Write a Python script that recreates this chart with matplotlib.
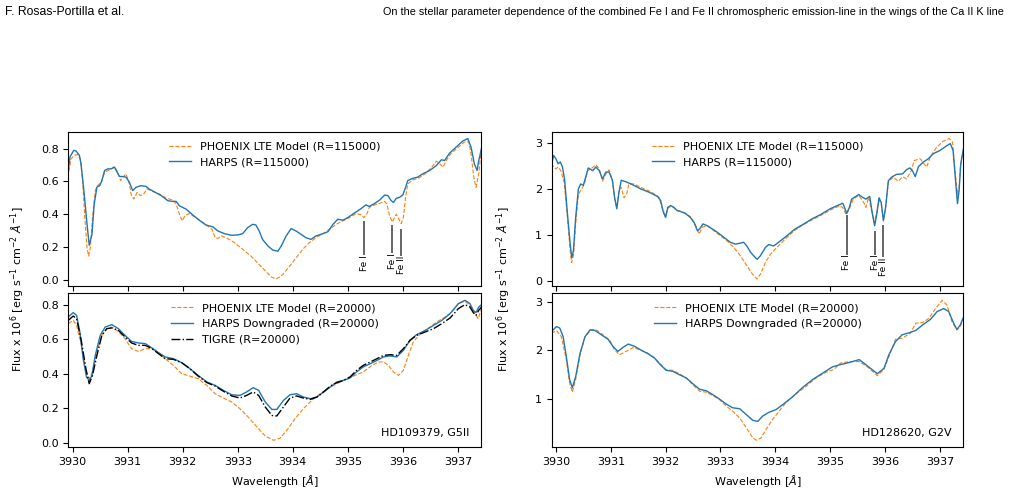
import matplotlib
matplotlib.use("Agg")
import matplotlib.pyplot as plt

# ---- top left: HD109379, R=115000 ----
tl_harps_wl = [3929.91, 3929.95, 3930.02, 3930.06, 3930.12, 3930.15, 3930.21, 3930.26, 3930.30, 3930.35,
               3930.39, 3930.44, 3930.49, 3930.53, 3930.58, 3930.64, 3930.70, 3930.76, 3930.79, 3930.85,
               3930.91, 3930.97, 3931.03, 3931.09, 3931.15, 3931.24, 3931.33, 3931.39, 3931.48, 3931.61,
               3931.73, 3931.82, 3931.88, 3931.94, 3932.06, 3932.18, 3932.30, 3932.42, 3932.55, 3932.64,
               3932.76, 3932.88, 3933.00, 3933.09, 3933.18, 3933.27, 3933.33, 3933.39, 3933.45, 3933.55,
               3933.64, 3933.73, 3933.79, 3933.88, 3933.97, 3934.06, 3934.15, 3934.24, 3934.33, 3934.42,
               3934.55, 3934.64, 3934.73, 3934.82, 3934.91, 3935.00, 3935.09, 3935.18, 3935.27, 3935.33,
               3935.39, 3935.49, 3935.58, 3935.67, 3935.73, 3935.79, 3935.83, 3935.88, 3935.94, 3936.00,
               3936.05, 3936.09, 3936.18, 3936.27, 3936.36, 3936.49, 3936.61, 3936.70, 3936.76, 3936.85,
               3936.97, 3937.09, 3937.18, 3937.24, 3937.30, 3937.35, 3937.38, 3937.43]
tl_harps_fl = [0.646, 0.75, 0.79, 0.786, 0.76, 0.71, 0.52, 0.34, 0.21, 0.277,
               0.46, 0.565, 0.574, 0.605, 0.667, 0.677, 0.677, 0.687, 0.667, 0.63,
               0.63, 0.626, 0.595, 0.544, 0.564, 0.574, 0.57, 0.554, 0.537, 0.513,
               0.482, 0.478, 0.478, 0.451, 0.431, 0.396, 0.363, 0.334, 0.322, 0.297,
               0.281, 0.271, 0.273, 0.281, 0.318, 0.338, 0.334, 0.297, 0.246, 0.205,
               0.18, 0.174, 0.205, 0.267, 0.312, 0.297, 0.277, 0.256, 0.246, 0.267,
               0.281, 0.293, 0.338, 0.369, 0.363, 0.379, 0.40, 0.42, 0.441, 0.457,
               0.447, 0.466, 0.486, 0.517, 0.513, 0.482, 0.472, 0.496, 0.503, 0.517,
               0.564, 0.605, 0.619, 0.626, 0.646, 0.667, 0.697, 0.732, 0.728, 0.773,
               0.81, 0.847, 0.862, 0.81, 0.708, 0.667, 0.728, 0.80]
tl_model_wl = [3929.91, 3929.97, 3930.03, 3930.09, 3930.14, 3930.18, 3930.22, 3930.26, 3930.29, 3930.32,
               3930.36, 3930.41, 3930.45, 3930.52, 3930.58, 3930.67, 3930.76, 3930.82, 3930.87, 3930.91,
               3930.97, 3931.03, 3931.06, 3931.11, 3931.17, 3931.23, 3931.29, 3931.35, 3931.45, 3931.58,
               3931.70, 3931.82, 3931.88, 3931.94, 3931.99, 3932.04, 3932.12, 3932.21, 3932.33, 3932.45,
               3932.53, 3932.59, 3932.64, 3932.70, 3932.79, 3932.94, 3933.09, 3933.24, 3933.39, 3933.52,
               3933.61, 3933.70, 3933.82, 3933.94, 3934.06, 3934.18, 3934.30, 3934.42, 3934.55, 3934.67,
               3934.79, 3934.91, 3935.03, 3935.15, 3935.24, 3935.29, 3935.35, 3935.39, 3935.49, 3935.58,
               3935.67, 3935.71, 3935.76, 3935.81, 3935.85, 3935.88, 3935.92, 3935.97, 3936.01, 3936.05,
               3936.09, 3936.18, 3936.30, 3936.42, 3936.55, 3936.61, 3936.67, 3936.73, 3936.79, 3936.88,
               3937.00, 3937.12, 3937.20, 3937.24, 3937.29, 3937.33, 3937.38, 3937.43]
tl_model_fl = [0.626, 0.738, 0.759, 0.765, 0.738, 0.605, 0.379, 0.195, 0.144, 0.195,
               0.379, 0.544, 0.574, 0.595, 0.656, 0.671, 0.691, 0.656, 0.605, 0.626,
               0.646, 0.585, 0.523, 0.492, 0.533, 0.513, 0.523, 0.554, 0.539, 0.523,
               0.498, 0.486, 0.462, 0.40, 0.359, 0.39, 0.404, 0.384, 0.359, 0.328,
               0.308, 0.256, 0.252, 0.267, 0.256, 0.226, 0.185, 0.144, 0.092, 0.047,
               0.016, 0.004, 0.031, 0.082, 0.133, 0.185, 0.226, 0.256, 0.281, 0.308,
               0.338, 0.359, 0.379, 0.404, 0.396, 0.379, 0.404, 0.441, 0.457, 0.466,
               0.478, 0.462, 0.39, 0.353, 0.379, 0.40, 0.375, 0.343, 0.379, 0.503,
               0.585, 0.609, 0.622, 0.65, 0.697, 0.724, 0.708, 0.687, 0.728, 0.773,
               0.806, 0.841, 0.841, 0.769, 0.626, 0.564, 0.646, 0.81]

# ---- bottom left: HD109379, R=20000 ----
bl_harps_wl = [3929.92, 3930.01, 3930.07, 3930.13, 3930.19, 3930.25, 3930.30, 3930.35, 3930.41, 3930.50,
               3930.59, 3930.71, 3930.83, 3930.95, 3931.07, 3931.19, 3931.32, 3931.44, 3931.56, 3931.68,
               3931.83, 3931.98, 3932.13, 3932.28, 3932.44, 3932.59, 3932.74, 3932.89, 3933.04, 3933.16,
               3933.28, 3933.38, 3933.50, 3933.62, 3933.71, 3933.83, 3933.95, 3934.07, 3934.19, 3934.32,
               3934.44, 3934.56, 3934.68, 3934.80, 3934.92, 3935.04, 3935.16, 3935.28, 3935.41, 3935.53,
               3935.65, 3935.77, 3935.89, 3936.01, 3936.13, 3936.25, 3936.41, 3936.56, 3936.71, 3936.86,
               3937.01, 3937.13, 3937.22, 3937.28, 3937.33, 3937.38, 3937.43]
bl_harps_fl = [0.729, 0.754, 0.738, 0.642, 0.487, 0.381, 0.361, 0.39, 0.506, 0.622,
               0.67, 0.684, 0.661, 0.622, 0.587, 0.578, 0.574, 0.549, 0.522, 0.497,
               0.487, 0.464, 0.429, 0.39, 0.352, 0.332, 0.303, 0.278, 0.274, 0.294,
               0.319, 0.303, 0.236, 0.193, 0.193, 0.245, 0.278, 0.284, 0.265, 0.255,
               0.265, 0.294, 0.323, 0.352, 0.361, 0.375, 0.41, 0.439, 0.458, 0.477,
               0.497, 0.503, 0.497, 0.535, 0.593, 0.626, 0.651, 0.68, 0.709, 0.748,
               0.806, 0.825, 0.806, 0.767, 0.754, 0.786, 0.80]
bl_model_wl = [3929.92, 3930.01, 3930.07, 3930.16, 3930.24, 3930.30, 3930.36, 3930.44, 3930.53, 3930.62,
               3930.71, 3930.83, 3930.95, 3931.07, 3931.19, 3931.32, 3931.44, 3931.56, 3931.68, 3931.83,
               3931.98, 3932.13, 3932.28, 3932.44, 3932.59, 3932.74, 3932.89, 3933.04, 3933.19, 3933.35,
               3933.50, 3933.65, 3933.77, 3933.89, 3934.04, 3934.19, 3934.38, 3934.56, 3934.74, 3934.92,
               3935.10, 3935.28, 3935.44, 3935.56, 3935.65, 3935.74, 3935.83, 3935.92, 3936.01, 3936.10,
               3936.19, 3936.32, 3936.47, 3936.62, 3936.77, 3936.89, 3937.01, 3937.13, 3937.22, 3937.31,
               3937.37, 3937.43]
bl_model_fl = [0.69, 0.709, 0.68, 0.564, 0.41, 0.371, 0.41, 0.526, 0.622, 0.661,
               0.67, 0.645, 0.603, 0.545, 0.529, 0.545, 0.545, 0.516, 0.487, 0.448,
               0.40, 0.386, 0.371, 0.332, 0.284, 0.259, 0.236, 0.197, 0.149, 0.091,
               0.039, 0.014, 0.027, 0.071, 0.139, 0.197, 0.255, 0.298, 0.332, 0.361,
               0.386, 0.41, 0.448, 0.468, 0.468, 0.448, 0.41, 0.39, 0.419, 0.506,
               0.584, 0.632, 0.665, 0.70, 0.729, 0.757, 0.806, 0.819, 0.796, 0.748,
               0.719, 0.777]
bl_tigre_wl = [3929.92, 3930.01, 3930.07, 3930.16, 3930.24, 3930.30, 3930.36, 3930.44, 3930.53, 3930.62,
               3930.71, 3930.83, 3930.95, 3931.07, 3931.19, 3931.32, 3931.44, 3931.56, 3931.68, 3931.83,
               3931.98, 3932.13, 3932.28, 3932.44, 3932.59, 3932.74, 3932.89, 3933.04, 3933.16, 3933.28,
               3933.38, 3933.50, 3933.62, 3933.71, 3933.83, 3933.95, 3934.07, 3934.19, 3934.32, 3934.44,
               3934.56, 3934.68, 3934.80, 3934.92, 3935.04, 3935.16, 3935.28, 3935.41, 3935.53, 3935.65,
               3935.77, 3935.89, 3936.01, 3936.13, 3936.25, 3936.41, 3936.56, 3936.71, 3936.86, 3937.01,
               3937.13, 3937.22, 3937.28, 3937.33, 3937.38, 3937.43]
bl_tigre_fl = [0.709, 0.734, 0.719, 0.584, 0.429, 0.342, 0.39, 0.506, 0.622, 0.661,
               0.665, 0.651, 0.613, 0.578, 0.564, 0.564, 0.545, 0.516, 0.487, 0.483,
               0.464, 0.429, 0.386, 0.348, 0.328, 0.298, 0.271, 0.259, 0.274, 0.294,
               0.274, 0.207, 0.158, 0.155, 0.207, 0.259, 0.271, 0.259, 0.251, 0.265,
               0.294, 0.328, 0.348, 0.361, 0.381, 0.419, 0.448, 0.468, 0.487, 0.506,
               0.51, 0.506, 0.545, 0.593, 0.622, 0.642, 0.661, 0.69, 0.723, 0.777,
               0.80, 0.786, 0.754, 0.738, 0.767, 0.786]

# ---- top right: HD128620, R=115000 ----
tr_harps_wl = [3929.90, 3929.92, 3929.96, 3930.00, 3930.04, 3930.08, 3930.12, 3930.16, 3930.21, 3930.26,
               3930.29, 3930.32, 3930.36, 3930.41, 3930.45, 3930.50, 3930.55, 3930.59, 3930.67, 3930.73,
               3930.79, 3930.85, 3930.91, 3930.97, 3931.03, 3931.07, 3931.11, 3931.15, 3931.19, 3931.27,
               3931.39, 3931.55, 3931.70, 3931.85, 3931.91, 3931.96, 3932.00, 3932.04, 3932.09, 3932.15,
               3932.21, 3932.27, 3932.36, 3932.45, 3932.52, 3932.58, 3932.62, 3932.68, 3932.76, 3932.85,
               3932.94, 3933.06, 3933.18, 3933.27, 3933.36, 3933.42, 3933.48, 3933.55, 3933.64, 3933.67,
               3933.73, 3933.82, 3933.88, 3933.97, 3934.06, 3934.21, 3934.36, 3934.52, 3934.67, 3934.82,
               3935.00, 3935.15, 3935.23, 3935.26, 3935.30, 3935.35, 3935.39, 3935.52, 3935.59, 3935.65,
               3935.72, 3935.76, 3935.81, 3935.85, 3935.89, 3935.93, 3935.97, 3936.01, 3936.06, 3936.12,
               3936.21, 3936.32, 3936.39, 3936.45, 3936.50, 3936.55, 3936.61, 3936.70, 3936.79, 3936.88,
               3937.00, 3937.12, 3937.19, 3937.24, 3937.28, 3937.32, 3937.35, 3937.38, 3937.43]
tr_harps_fl = [2.22, 2.55, 2.73, 2.66, 2.55, 2.59, 2.48, 2.19, 1.46, 0.80,
               0.50, 0.66, 1.38, 2.00, 2.11, 2.08, 2.29, 2.46, 2.40, 2.48,
               2.40, 2.22, 2.37, 2.37, 2.19, 1.82, 1.57, 1.93, 2.19, 2.16,
               2.10, 2.00, 1.93, 1.84, 1.75, 1.49, 1.38, 1.60, 1.64, 1.60,
               1.53, 1.51, 1.47, 1.38, 1.27, 1.09, 1.13, 1.24, 1.20, 1.13,
               1.06, 0.95, 0.84, 0.80, 0.82, 0.84, 0.76, 0.62, 0.50, 0.47,
               0.55, 0.73, 0.79, 0.76, 0.84, 0.98, 1.13, 1.24, 1.35, 1.44,
               1.57, 1.65, 1.69, 1.60, 1.47, 1.60, 1.78, 1.88, 1.82, 1.78,
               1.84, 1.53, 1.20, 1.46, 1.81, 1.71, 1.31, 1.60, 2.18, 2.26,
               2.32, 2.33, 2.42, 2.46, 2.40, 2.27, 2.49, 2.59, 2.66, 2.77,
               2.84, 2.94, 2.99, 2.84, 2.26, 1.68, 1.97, 2.55, 2.88]
tr_model_wl = [3929.90, 3929.94, 3930.00, 3930.04, 3930.09, 3930.15, 3930.21, 3930.26, 3930.285, 3930.32,
               3930.36, 3930.41, 3930.47, 3930.52, 3930.58, 3930.64, 3930.73, 3930.79, 3930.85, 3930.91,
               3930.97, 3931.03, 3931.07, 3931.11, 3931.15, 3931.19, 3931.24, 3931.29, 3931.33, 3931.42,
               3931.58, 3931.73, 3931.88, 3931.95, 3932.00, 3932.05, 3932.12, 3932.21, 3932.33, 3932.45,
               3932.55, 3932.61, 3932.67, 3932.76, 3932.88, 3933.00, 3933.12, 3933.24, 3933.36, 3933.48,
               3933.58, 3933.67, 3933.73, 3933.82, 3933.91, 3934.03, 3934.18, 3934.33, 3934.48, 3934.64,
               3934.82, 3935.00, 3935.18, 3935.24, 3935.29, 3935.35, 3935.42, 3935.52, 3935.61, 3935.65,
               3935.70, 3935.74, 3935.80, 3935.85, 3935.89, 3935.93, 3935.97, 3936.01, 3936.06, 3936.15,
               3936.24, 3936.32, 3936.39, 3936.48, 3936.53, 3936.64, 3936.71, 3936.76, 3936.82, 3936.94,
               3937.06, 3937.17, 3937.23, 3937.27, 3937.32, 3937.35, 3937.38, 3937.43]
tr_model_fl = [2.48, 2.51, 2.44, 2.48, 2.40, 2.15, 1.38, 0.66, 0.40, 0.55,
               1.24, 1.89, 2.00, 2.11, 2.40, 2.44, 2.53, 2.44, 2.17, 2.33,
               2.42, 2.19, 1.78, 1.60, 1.97, 2.04, 1.81, 1.89, 2.11, 2.11,
               2.02, 1.94, 1.82, 1.53, 1.42, 1.60, 1.62, 1.54, 1.49, 1.40,
               1.20, 1.02, 1.17, 1.20, 1.09, 0.98, 0.87, 0.73, 0.55, 0.33,
               0.15, 0.04, 0.15, 0.40, 0.58, 0.73, 0.91, 1.08, 1.20, 1.31,
               1.42, 1.54, 1.64, 1.58, 1.44, 1.57, 1.78, 1.86, 1.71, 1.60,
               1.82, 1.60, 1.27, 1.49, 1.76, 1.68, 1.31, 1.60, 2.15, 2.26,
               2.17, 2.27, 2.22, 2.40, 2.62, 2.66, 2.55, 2.48, 2.69, 2.91,
               3.04, 3.10, 3.02, 2.48, 1.89, 2.04, 2.55, 2.88]

# ---- bottom right: HD128620, R=20000 ----
br_harps_wl = [3929.92, 3930.01, 3930.07, 3930.13, 3930.19, 3930.25, 3930.30, 3930.36, 3930.44, 3930.53,
               3930.62, 3930.71, 3930.83, 3930.95, 3931.04, 3931.13, 3931.22, 3931.32, 3931.44, 3931.56,
               3931.68, 3931.80, 3931.89, 3932.01, 3932.13, 3932.25, 3932.38, 3932.50, 3932.62, 3932.74,
               3932.86, 3932.98, 3933.10, 3933.22, 3933.35, 3933.47, 3933.59, 3933.68, 3933.77, 3933.89,
               3934.01, 3934.13, 3934.32, 3934.50, 3934.68, 3934.86, 3935.04, 3935.16, 3935.31, 3935.53,
               3935.68, 3935.86, 3935.98, 3936.07, 3936.19, 3936.31, 3936.46, 3936.56, 3936.68, 3936.83,
               3936.95, 3937.07, 3937.16, 3937.25, 3937.31, 3937.37, 3937.42]
br_harps_fl = [2.39, 2.49, 2.46, 2.29, 1.87, 1.40, 1.23, 1.46, 1.94, 2.28,
               2.42, 2.41, 2.32, 2.23, 2.08, 1.98, 2.06, 2.13, 2.08, 2.00,
               1.93, 1.84, 1.72, 1.59, 1.57, 1.50, 1.43, 1.31, 1.20, 1.17,
               1.09, 1.00, 0.90, 0.82, 0.80, 0.68, 0.56, 0.54, 0.65, 0.73,
               0.78, 0.88, 1.05, 1.24, 1.40, 1.53, 1.66, 1.70, 1.74, 1.81,
               1.68, 1.52, 1.63, 1.91, 2.18, 2.32, 2.37, 2.41, 2.52, 2.64,
               2.80, 2.86, 2.80, 2.56, 2.43, 2.52, 2.66]
br_model_wl = [3929.92, 3930.01, 3930.10, 3930.19, 3930.25, 3930.30, 3930.36, 3930.44, 3930.53, 3930.65,
               3930.74, 3930.86, 3930.98, 3931.07, 3931.16, 3931.28, 3931.41, 3931.53, 3931.65, 3931.77,
               3931.89, 3932.01, 3932.13, 3932.25, 3932.38, 3932.50, 3932.62, 3932.74, 3932.86, 3932.98,
               3933.10, 3933.22, 3933.35, 3933.47, 3933.59, 3933.66, 3933.74, 3933.83, 3933.95, 3934.07,
               3934.19, 3934.38, 3934.56, 3934.74, 3934.92, 3935.07, 3935.19, 3935.35, 3935.53, 3935.68,
               3935.86, 3935.98, 3936.07, 3936.19, 3936.31, 3936.46, 3936.56, 3936.68, 3936.80, 3936.92,
               3937.04, 3937.13, 3937.22, 3937.31, 3937.37, 3937.42]
br_model_fl = [2.35, 2.41, 2.28, 1.81, 1.33, 1.14, 1.40, 1.91, 2.28, 2.43,
               2.42, 2.32, 2.21, 2.01, 1.91, 1.98, 2.06, 2.01, 1.96, 1.87,
               1.74, 1.60, 1.59, 1.52, 1.43, 1.29, 1.16, 1.14, 1.07, 0.99,
               0.86, 0.75, 0.61, 0.41, 0.20, 0.15, 0.20, 0.37, 0.58, 0.75,
               0.92, 1.11, 1.26, 1.43, 1.55, 1.61, 1.74, 1.77, 1.77, 1.66,
               1.48, 1.61, 1.87, 2.23, 2.25, 2.35, 2.56, 2.57, 2.66, 2.86,
               3.03, 2.93, 2.59, 2.42, 2.49, 2.63]

# Fe line markers: (wavelength, top, bottom, label)
tl_lines = [(3935.30, 0.357, 0.15, 'Fe I'), (3935.81, 0.332, 0.16, 'Fe I'), (3935.97, 0.31, 0.145, 'Fe II')]
tr_lines = [(3935.30, 1.43, 0.57, 'Fe I'), (3935.82, 1.09, 0.57, 'Fe I'), (3935.97, 1.22, 0.51, 'Fe II')]

xlims = (3929.92, 3937.43)
ylabel = r'Flux x 10$^6$ [erg s$^{-1}$ cm$^{-2}$ $\AA^{-1}$]'

plt.rcParams['font.size'] = 8

fig = plt.figure(figsize=(10.09, 4.90), dpi=100)
ax_tl = fig.add_axes([0.0677, 0.4163, 0.4095, 0.3153])
ax_bl = fig.add_axes([0.0677, 0.0871, 0.4095, 0.3143], sharex=ax_tl)
ax_tr = fig.add_axes([0.5466, 0.4163, 0.4083, 0.3153])
ax_br = fig.add_axes([0.5466, 0.0871, 0.4083, 0.3143], sharex=ax_tr)


def draw_top(ax, wl_m, fl_m, wl_h, fl_h, lines):
    ax.plot(wl_m, fl_m, color='C1', ls='--', lw=0.8, label='PHOENIX LTE Model (R=115000)')
    ax.plot(wl_h, fl_h, color='C0', lw=1.0, label='HARPS (R=115000)')
    for x, top, bot, lab in lines:
        ax.vlines(x, bot, top, color='0.35', lw=1.3)
        ax.text(x, bot, lab, rotation=90, ha='center', va='top', fontsize=6.5)
    ax.legend(loc='upper center', frameon=False, fontsize=8)
    ax.tick_params(labelbottom=False)


draw_top(ax_tl, tl_model_wl, tl_model_fl, tl_harps_wl, tl_harps_fl, tl_lines)
draw_top(ax_tr, tr_model_wl, tr_model_fl, tr_harps_wl, tr_harps_fl, tr_lines)

ax_bl.plot(bl_model_wl, bl_model_fl, color='C1', ls='--', lw=0.8, label='PHOENIX LTE Model (R=20000)')
ax_bl.plot(bl_harps_wl, bl_harps_fl, color='C0', lw=1.0, label='HARPS Downgraded (R=20000)')
ax_bl.plot(bl_tigre_wl, bl_tigre_fl, color='k', ls='-.', lw=1.0, label='TIGRE (R=20000)')
ax_bl.legend(loc='upper center', frameon=False, fontsize=8)
ax_bl.text(0.97, 0.06, 'HD109379, G5II', transform=ax_bl.transAxes, ha='right', va='bottom')

ax_br.plot(br_model_wl, br_model_fl, color='C1', ls='--', lw=0.8, label='PHOENIX LTE Model (R=20000)')
ax_br.plot(br_harps_wl, br_harps_fl, color='C0', lw=1.0, label='HARPS Downgraded (R=20000)')
ax_br.legend(loc='upper center', frameon=False, fontsize=8)
ax_br.text(0.97, 0.06, 'HD128620, G2V', transform=ax_br.transAxes, ha='right', va='bottom')

ax_tl.set_yticks([0.0, 0.2, 0.4, 0.6, 0.8])
ax_bl.set_yticks([0.0, 0.2, 0.4, 0.6, 0.8])
ax_tr.set_yticks([0, 1, 2, 3])
ax_br.set_yticks([1, 2, 3])

for ax in (ax_bl, ax_br):
    ax.set_xlim(*xlims)
    ax.set_xlabel(r'Wavelength [$\AA$]')

fig.text(0.018, 0.41, ylabel, rotation=90, ha='center', va='center')
fig.text(0.499, 0.41, ylabel, rotation=90, ha='center', va='center')

hdr = ['Liberation Sans', 'DejaVu Sans']
fig.text(0.005, 0.975, 'F. Rosas-Portilla et al.', family=hdr, fontsize=8.8, va='center')
fig.text(0.995, 0.975, 'On the stellar parameter dependence of the combined Fe I and Fe II chromospheric '
         'emission-line in the wings of the Ca II K line', family=hdr, fontsize=7.85, ha='right', va='center')

fig.savefig('out.png', dpi=100)
